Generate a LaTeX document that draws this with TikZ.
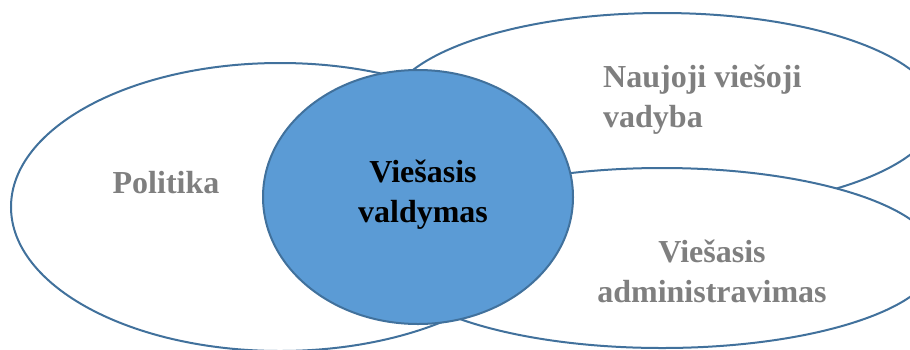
\documentclass[tikz,border=0pt]{standalone}
\usepackage{fontspec}
\setmainfont{Liberation Serif}
\usetikzlibrary{shapes.geometric}
\definecolor{rim}{HTML}{41719C}
\definecolor{core}{HTML}{5B9BD5}
\definecolor{greytext}{HTML}{7F7F7F}

\begin{document}
\begin{tikzpicture}[x=1pt,y=-1pt,
    field/.style={ellipse,draw=rim,line width=2pt,fill=white,inner sep=0pt},
    word/.style={font=\fontsize{32}{40}\selectfont\bfseries,inner sep=0pt,text=greytext}]
  \useasboundingbox (0,0) rectangle (910,349);
  \begin{scope}
    \node[field,minimum width=538pt,minimum height=288pt] (e0) at (280,207) {};
    \node[field,minimum width=550pt,minimum height=198pt] (e1) at (662,112) {};
    \node[field,minimum width=550pt,minimum height=180pt] (e2) at (662,258) {};
    \node[field,fill=core,minimum width=310pt,minimum height=254pt] (e3) at (418,197) {};
  \end{scope}
  \begin{scope}
    \node[word,anchor=base] (t0) at (166,193) {Politika};
    \node[word,align=left,anchor=west] (t1) at (603,100) {Naujoji viešoji\\vadyba};
    \node[word,align=center] (t2) at (712,271) {Viešasis\\administravimas};
    \node[word,align=center,text=black] (t3) at (423,195) {Viešasis\\valdymas};
  \end{scope}
\end{tikzpicture}
\end{document}
